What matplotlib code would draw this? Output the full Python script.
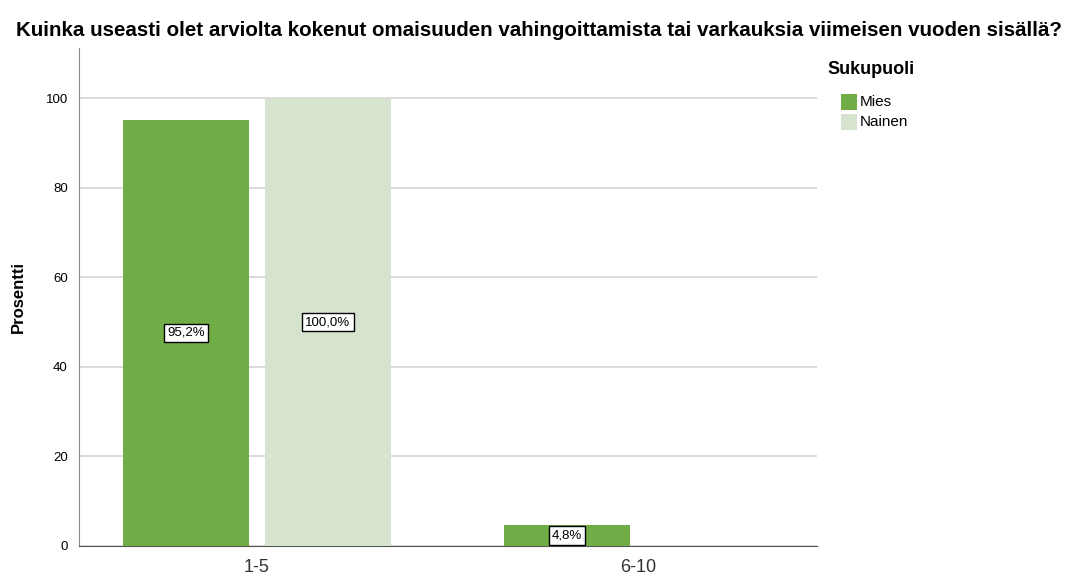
import matplotlib
matplotlib.use("Agg")
import matplotlib.pyplot as plt
import numpy as np
from matplotlib.patches import Rectangle

plt.rcParams['font.family'] = ['Liberation Sans', 'DejaVu Sans']

categories = ["1-5", "6-10"]
series_names = ["Mies", "Nainen"]
mies = [95.2, 4.8]
nainen = [100.0, 0.0]
labels_mies = ["95,2%", "4,8%"]
labels_nainen = ["100,0%", ""]
colors = ["#70AD47", "#D5E3CF"]

W, H = 1078, 576
fig = plt.figure(figsize=(W / 100, H / 100), dpi=100)
ax = fig.add_axes([79/W, 30/H, (817-79)/W, (546-48)/H])

x = np.arange(len(categories))
w = 0.331
off = 0.186
ax.bar(x - off, mies, width=w, color=colors[0], zorder=3)
ax.bar(x + off, nainen, width=w, color=colors[1], zorder=3)

bbox = dict(boxstyle="square,pad=0.25", fc="white", ec="black", lw=1.0)
for xi, v, lab in zip(x - off, mies, labels_mies):
    if lab:
        ax.text(xi, v / 2, lab, ha="center", va="center", fontsize=9.5, bbox=bbox, zorder=5)
for xi, v, lab in zip(x + off, nainen, labels_nainen):
    if lab:
        ax.text(xi, v / 2, lab, ha="center", va="center", fontsize=9.5, bbox=bbox, zorder=5)

ax.set_xlim(-0.467, 1.47)
ax.set_ylim(0, 111.2)
ax.set_yticks([0, 20, 40, 60, 80, 100])
ax.set_xticks(x)
ax.set_xticklabels(categories, fontsize=13, color="#333333")
ax.tick_params(axis="y", labelsize=9.5, length=0, pad=8)
ax.tick_params(axis="x", length=0, pad=9)
ax.yaxis.grid(True, color="#d4d4d4", lw=1.2, zorder=0)
for s in ["top", "right"]:
    ax.spines[s].set_visible(False)
ax.spines["left"].set_color("#888888")
ax.spines["bottom"].set_color("#555555")

ax.set_ylabel("Prosentti", fontsize=12, fontweight="bold", labelpad=14)

fig.text(0.5, 1 - 30/H, "Kuinka useasti olet arviolta kokenut omaisuuden vahingoittamista tai varkauksia viimeisen vuoden sisällä?",
         ha="center", va="center", fontsize=14.8, fontweight="bold")

# legend
fig.text(827/W, 1 - 70/H, "Sukupuoli", ha="left", va="center", fontsize=13, fontweight="bold")
for i, (name, c) in enumerate(zip(series_names, colors)):
    yc = 102 + i * 20
    fig.patches.append(Rectangle((841/W, 1 - (yc + 8)/H), 16/W, 16/H,
                                 transform=fig.transFigure, facecolor=c, edgecolor="none"))
    fig.text(860/W, 1 - yc/H, name, ha="left", va="center", fontsize=11)

fig.savefig("out.png", dpi=100)
